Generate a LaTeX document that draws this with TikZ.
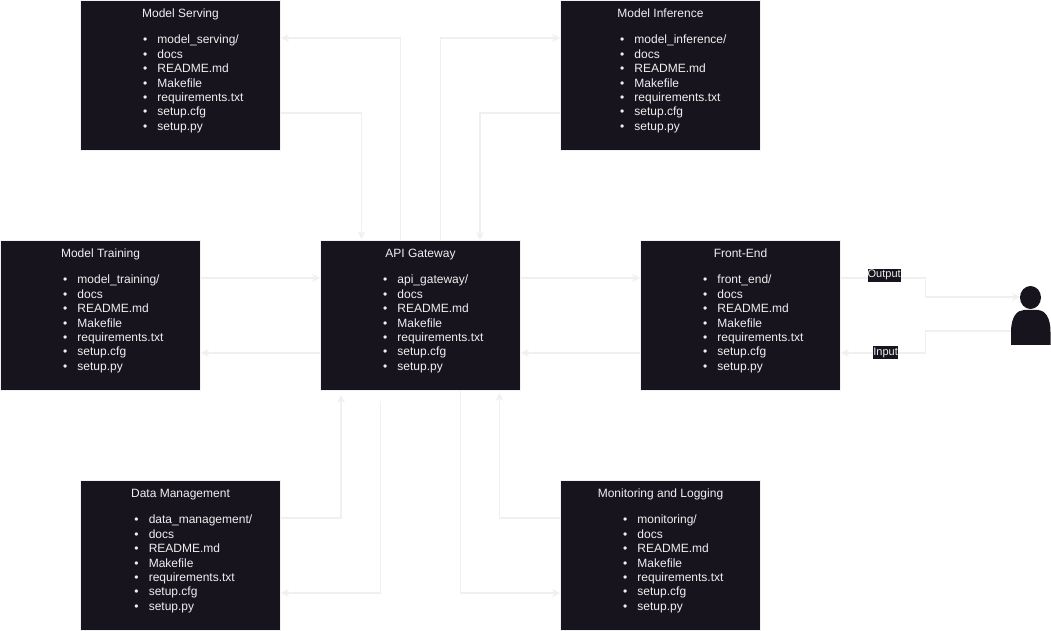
\documentclass[tikz,border=0pt]{standalone}
\usepackage{fontspec}
\setmainfont{Liberation Sans}
\usepackage{xcolor}
\usetikzlibrary{calc,arrows.meta}
\definecolor{boxdark}{HTML}{18141D}
\definecolor{flowgray}{HTML}{F0F0F0}
\tikzstyle{flow} = [flowgray,line width=0.9pt,-{Stealth[length=6pt,width=6pt]}]
\tikzstyle{svcbox} = [draw=flowgray,line width=0.75pt,fill=boxdark,text=flowgray,inner sep=0pt,minimum width=150pt,minimum height=112.5pt]
\tikzstyle{flowlabel} = [fill=boxdark,text=flowgray,inner sep=0pt,minimum height=9.75pt,font=\fontsize{8.25}{9.75}\selectfont]
\newcommand{\svclist}[2]{%
  \begin{minipage}[c][112.5pt][t]{150pt}
    \fontsize{9}{10.8}\selectfont\centering\def\arraystretch{1}%
    \vspace*{4.9pt}\strut#1\strut\par\vspace{8.3pt}%
    \hspace*{30pt}\begin{tabular}{@{}l@{}}
      \llap{\textbullet\hspace{7.7pt}}#2\\
      \llap{\textbullet\hspace{7.7pt}}docs\\
      \llap{\textbullet\hspace{7.7pt}}README.md\\
      \llap{\textbullet\hspace{7.7pt}}Makefile\\
      \llap{\textbullet\hspace{7.7pt}}requirements.txt\\
      \llap{\textbullet\hspace{7.7pt}}setup.cfg\\
      \llap{\textbullet\hspace{7.7pt}}setup.py
    \end{tabular}
  \end{minipage}}

\begin{document}
\begin{tikzpicture}[x=0.75pt,y=-0.75pt]
    \useasboundingbox (0,0) rectangle (1051,631);

    \node[svcbox] (serving) at (180.5,75.5) {\svclist{Model Serving}{model\_serving/}};
    \node[svcbox] (inference) at (660.5,75.5) {\svclist{Model Inference}{model\_inference/}};
    \node[svcbox] (training) at (100.5,315.5) {\svclist{Model Training}{model\_training/}};
    \node[svcbox] (gateway) at (420.5,315.5) {\svclist{API Gateway}{api\_gateway/}};
    \node[svcbox] (frontend) at (740.5,315.5) {\svclist{Front-End}{front\_end/}};
    \node[svcbox] (data) at (180.5,555.5) {\svclist{Data Management}{data\_management/}};
    \node[svcbox] (monitoring) at (660.5,555.5) {\svclist{Monitoring and Logging}{monitoring/}};

    \fill[boxdark] (1030.5,297.5) ellipse [x radius=10.5,y radius=11.5];
    \fill[boxdark] (1011,345) -- (1011,332) .. controls (1011,317) and (1017,310) .. (1024,310)
        -- (1037,310) .. controls (1045,310) and (1050.5,317) .. (1050.5,332) -- (1050.5,345) -- cycle;
    \coordinate (user) at (1030.5,315);

    \draw[flow] ($(gateway.north)+(-20,0)$) |- ($(serving.east)+(0,-37.5)$);
    \draw[flow] ($(serving.east)+(0,37.5)$) -| ($(gateway.north)+(-59,-1)$);
    \draw[flow] ($(gateway.north)+(20,0)$) |- ($(inference.west)+(0,-37.5)$);
    \draw[flow] ($(inference.west)+(0,37.5)$) -| ($(gateway.north)+(59.5,0)$);

    \draw[flow] ($(training.east)+(0,-37.5)$) -- ($(gateway.west)+(0,-37.5)$);
    \draw[flow] ($(gateway.west)+(0,37.5)$) -- ($(training.east)+(0,37.5)$);
    \draw[flow] ($(gateway.east)+(0,-37.5)$) -- ($(frontend.west)+(0,-37.5)$);
    \draw[flow] ($(frontend.west)+(0,37.5)$) -- ($(gateway.east)+(0,37.5)$);

    \draw[flow] ($(frontend.east)+(0,-37.5)$) -- ++(84.5,0) |- ($(user)+(-10.5,-18)$)
        node[pos=0,flowlabel,xshift=-31pt,yshift=2.2pt] (outputlabel) {Output};
    \draw[flow] ($(user)+(-19.5,16)$) -- ++(-85.5,0) |- ($(frontend.east)+(0,37.5)$)
        node[pos=1,flowlabel,xshift=33.5pt] (inputlabel) {Input};

    \draw[flow] ($(data.east)+(0,-37.5)$) -| ($(gateway.south)+(-79.5,4)$);
    \draw[flow] ($(gateway.south)+(-40,10)$) |- ($(data.east)+(0,37.5)$);
    \draw[flow] ($(gateway.south)+(40,0)$) |- ($(monitoring.west)+(0,37.5)$);
    \draw[flow] ($(monitoring.west)+(0,-37.5)$) -| ($(gateway.south)+(79,2)$);
\end{tikzpicture}
\end{document}
